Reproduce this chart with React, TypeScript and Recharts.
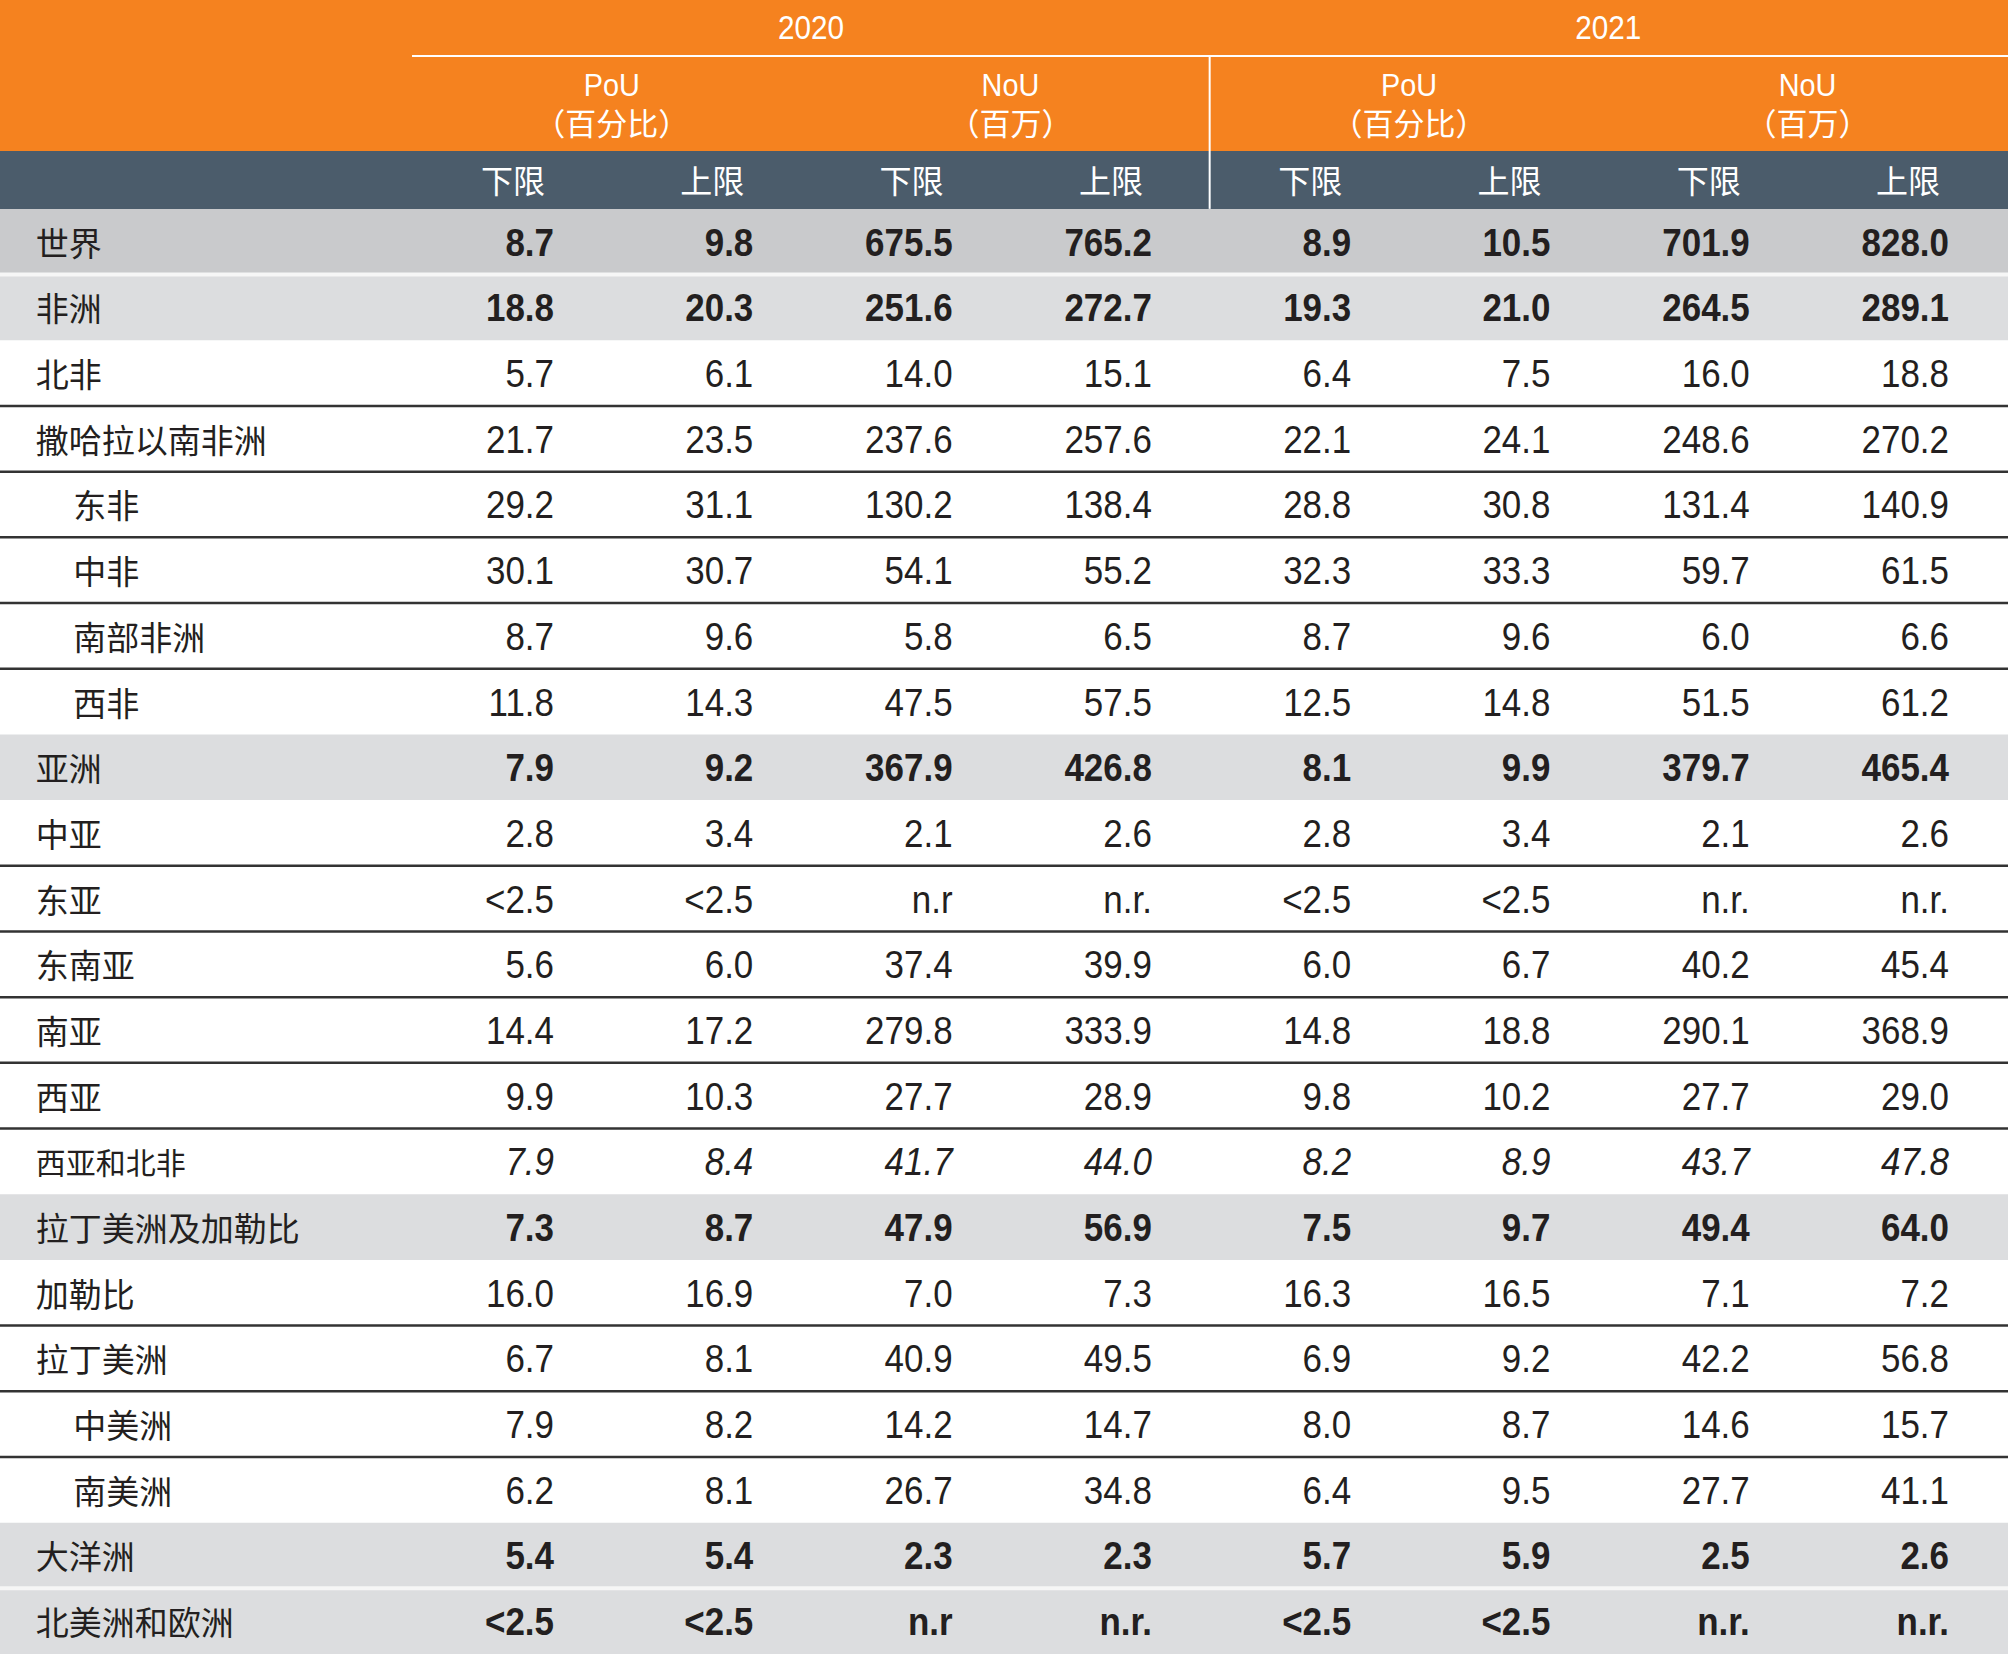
import React from "react";
import { ScatterChart, Scatter, XAxis, YAxis, ReferenceArea, ReferenceLine } from "recharts";

type RowKind = "world" | "group" | "plain" | "italic";

type Cell = {
  x: number;
  y: number;
  v: string;
  kind: RowKind;
};

const regions = [
  "世界", "非洲", "北非", "撒哈拉以南非洲", "东非", "中非", "南部非洲", "西非",
  "亚洲", "中亚", "东亚", "东南亚", "南亚", "西亚", "西亚和北非",
  "拉丁美洲及加勒比", "加勒比", "拉丁美洲", "中美洲", "南美洲", "大洋洲", "北美洲和欧洲",
];

const rowKinds: RowKind[] = [
  "world", "group", "plain", "plain", "plain", "plain", "plain", "plain",
  "group", "plain", "plain", "plain", "plain", "plain", "italic",
  "group", "plain", "plain", "plain", "plain", "group", "group",
];

const indented = [
  false, false, false, false, true, true, true, true,
  false, false, false, false, false, false, false,
  false, false, false, true, true, false, false,
];

const pou2020Low = ["8.7", "18.8", "5.7", "21.7", "29.2", "30.1", "8.7", "11.8", "7.9", "2.8", "<2.5", "5.6", "14.4", "9.9", "7.9", "7.3", "16.0", "6.7", "7.9", "6.2", "5.4", "<2.5"];
const pou2020High = ["9.8", "20.3", "6.1", "23.5", "31.1", "30.7", "9.6", "14.3", "9.2", "3.4", "<2.5", "6.0", "17.2", "10.3", "8.4", "8.7", "16.9", "8.1", "8.2", "8.1", "5.4", "<2.5"];
const nou2020Low = ["675.5", "251.6", "14.0", "237.6", "130.2", "54.1", "5.8", "47.5", "367.9", "2.1", "n.r", "37.4", "279.8", "27.7", "41.7", "47.9", "7.0", "40.9", "14.2", "26.7", "2.3", "n.r"];
const nou2020High = ["765.2", "272.7", "15.1", "257.6", "138.4", "55.2", "6.5", "57.5", "426.8", "2.6", "n.r.", "39.9", "333.9", "28.9", "44.0", "56.9", "7.3", "49.5", "14.7", "34.8", "2.3", "n.r."];
const pou2021Low = ["8.9", "19.3", "6.4", "22.1", "28.8", "32.3", "8.7", "12.5", "8.1", "2.8", "<2.5", "6.0", "14.8", "9.8", "8.2", "7.5", "16.3", "6.9", "8.0", "6.4", "5.7", "<2.5"];
const pou2021High = ["10.5", "21.0", "7.5", "24.1", "30.8", "33.3", "9.6", "14.8", "9.9", "3.4", "<2.5", "6.7", "18.8", "10.2", "8.9", "9.7", "16.5", "9.2", "8.7", "9.5", "5.9", "<2.5"];
const nou2021Low = ["701.9", "264.5", "16.0", "248.6", "131.4", "59.7", "6.0", "51.5", "379.7", "2.1", "n.r.", "40.2", "290.1", "27.7", "43.7", "49.4", "7.1", "42.2", "14.6", "27.7", "2.5", "n.r."];
const nou2021High = ["828.0", "289.1", "18.8", "270.2", "140.9", "61.5", "6.6", "61.2", "465.4", "2.6", "n.r.", "45.4", "368.9", "29.0", "47.8", "64.0", "7.2", "56.8", "15.7", "41.1", "2.6", "n.r."];

const years = ["2020", "2021"];
const measures = ["PoU", "NoU"];
const measureUnits = ["（百分比）", "（百万）"];
const bounds = ["下限", "上限", "下限", "上限", "下限", "上限", "下限", "上限"];

const columns = [pou2020Low, pou2020High, nou2020Low, nou2020High, pou2021Low, pou2021High, nou2021Low, nou2021High];

// layout: x in column units (column c right edge at c), y in row units
const W = 2008;
const H = 1654;
const X_MIN = -2.78;
const X_MAX = 7.296;
const Y_MIN = -3.68;
const Y_MAX = 21.5;
const SLATE_TOP = -1.383;
const BODY_TOP = -0.5;
const HEADER_RULE_Y = -2.829;
const GROUP_LEFT = -0.7125;
const YEAR_SPLIT = 3.29;
const LABEL_X = -2.6;
const LABEL_INDENT_X = -2.413;

const ORANGE = "#f5821f";
const SLATE = "#4b5c6b";
const WORLD_BG = "#c9cacc";
const GROUP_BG = "#dcdddf";
const INK = "#231f20";

const NUM_FONT = "'Liberation Sans', Arial, sans-serif";
const CJK_FONT = "'Noto Sans CJK SC', 'Noto Sans', sans-serif";

const isGray = (k: RowKind) => k === "world" || k === "group";

const cellData = (col: string[], c: number): Cell[] =>
  col.map((v, i) => ({ x: c, y: i, v, kind: rowKinds[i] }));

const labelData: Cell[] = regions.map((v, i) => ({
  x: indented[i] ? LABEL_INDENT_X : LABEL_X,
  y: i,
  v,
  kind: rowKinds[i],
}));

const yearData: Cell[] = years.map((v, g) => ({ x: g * 4 + 1.5 - 0.21, y: -3.255, v, kind: "plain" }));
const measureData: Cell[] = years.flatMap((_, g) =>
  measures.map((v, m) => ({ x: g * 4 + m * 2 + 0.5 - 0.21, y: -2.387, v, kind: "plain" as RowKind }))
);
const unitData: Cell[] = years.flatMap((_, g) =>
  measureUnits.map((v, m) => ({ x: g * 4 + m * 2 + 0.5 - 0.21, y: -1.824, v, kind: "plain" as RowKind }))
);
const boundData: Cell[] = bounds.map((v, c) => ({ x: c - 0.045, y: -0.957, v, kind: "plain" }));

const NumberCell = (props: any) => {
  const { cx, cy, payload } = props;
  const k: RowKind = payload.kind;
  return (
    <text
      transform={`translate(${cx} ${cy}) scale(0.92 1)`}
      x={0}
      y={0}
      dy={1}
      textAnchor="end"
      dominantBaseline="central"
      fontFamily={NUM_FONT}
      fontSize={38}
      fontWeight={isGray(k) ? "bold" : "normal"}
      fontStyle={k === "italic" ? "italic" : "normal"}
      fill={INK}
    >
      {payload.v}
    </text>
  );
};

const LabelCell = (props: any) => {
  const { cx, cy, payload } = props;
  const k: RowKind = payload.kind;
  return (
    <text
      x={cx}
      y={cy}
      textAnchor="start"
      dominantBaseline="central"
      fontFamily={CJK_FONT}
      fontSize={k === "italic" ? 30 : 33}
      fontWeight={400}
      fill={INK}
    >
      {payload.v}
    </text>
  );
};

const headerText = (font: string, size: number, anchor: "middle" | "end", sx = 1) => (props: any) => (
  <text
    transform={`translate(${props.cx} ${props.cy}) scale(${sx} 1)`}
    x={0}
    y={0}
    textAnchor={anchor}
    dominantBaseline="central"
    fontFamily={font}
    fontSize={size}
    fill="#ffffff"
  >
    {props.payload.v}
  </text>
);

const App: React.FC = () => {
  const darkRules: number[] = [];
  const whiteRules: number[] = [];
  for (let i = 0; i < regions.length - 1; i++) {
    if (!isGray(rowKinds[i]) && !isGray(rowKinds[i + 1])) darkRules.push(i + 0.5);
    if (isGray(rowKinds[i]) && isGray(rowKinds[i + 1])) whiteRules.push(i + 0.5);
  }

  return (
    <div style={{ position: "absolute", left: 0, top: 0, width: W, height: H, background: "#ffffff" }}>
      <ScatterChart width={W} height={H} margin={{ top: 0, right: 0, bottom: 0, left: 0 }}>
        <XAxis type="number" dataKey="x" domain={[X_MIN, X_MAX]} allowDataOverflow hide />
        <YAxis type="number" dataKey="y" domain={[Y_MIN, Y_MAX]} allowDataOverflow reversed hide />

        <ReferenceArea x1={X_MIN} x2={X_MAX} y1={Y_MIN} y2={SLATE_TOP} fill={ORANGE} fillOpacity={1} stroke="none" />
        <ReferenceArea x1={X_MIN} x2={X_MAX} y1={SLATE_TOP} y2={BODY_TOP} fill={SLATE} fillOpacity={1} stroke="none" />
        {rowKinds.map((k, i) =>
          isGray(k) ? (
            <ReferenceArea
              key={`bg-${i}`}
              x1={X_MIN}
              x2={X_MAX}
              y1={i - 0.5}
              y2={i + 0.5}
              fill={k === "world" ? WORLD_BG : GROUP_BG}
              fillOpacity={1}
              stroke="none"
            />
          ) : null
        )}

        <ReferenceLine
          segment={[{ x: GROUP_LEFT, y: HEADER_RULE_Y }, { x: X_MAX, y: HEADER_RULE_Y }]}
          stroke="#ffffff"
          strokeWidth={2}
        />
        <ReferenceLine
          segment={[{ x: YEAR_SPLIT, y: HEADER_RULE_Y }, { x: YEAR_SPLIT, y: BODY_TOP }]}
          stroke="#ffffff"
          strokeWidth={2}
        />
        {darkRules.map((y) => (
          <ReferenceLine key={`d-${y}`} y={y} stroke="#333333" strokeWidth={2.5} />
        ))}
        {whiteRules.map((y) => (
          <ReferenceLine key={`w-${y}`} y={y} stroke="#f6f6f6" strokeWidth={4} />
        ))}

        <Scatter data={yearData} shape={headerText(NUM_FONT, 33, "middle", 0.9)} isAnimationActive={false} />
        <Scatter data={measureData} shape={headerText(NUM_FONT, 32, "middle", 0.9)} isAnimationActive={false} />
        <Scatter data={unitData} shape={headerText(CJK_FONT, 31, "middle")} isAnimationActive={false} />
        <Scatter data={boundData} shape={headerText(CJK_FONT, 32, "end")} isAnimationActive={false} />

        <Scatter data={labelData} shape={LabelCell} isAnimationActive={false} />
        {columns.map((col, c) => (
          <Scatter key={`col-${c}`} data={cellData(col, c)} shape={NumberCell} isAnimationActive={false} />
        ))}
      </ScatterChart>
    </div>
  );
};

export default App;
